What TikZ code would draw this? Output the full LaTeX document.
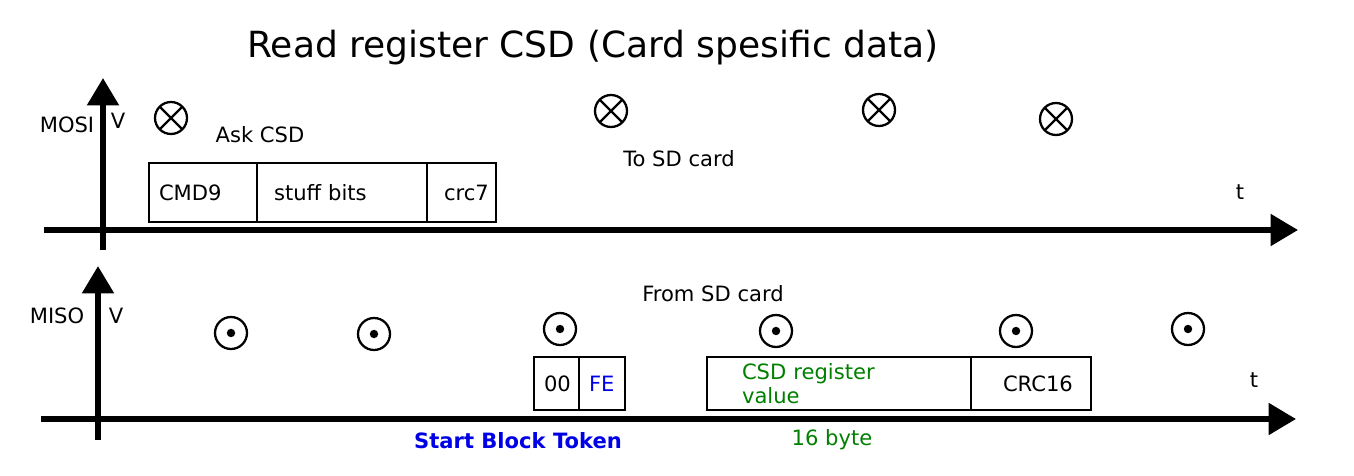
\documentclass[tikz,border=0pt]{standalone}
\usepackage{fontspec}
\setmainfont{DejaVu Sans}
\usetikzlibrary{arrows.meta}
\definecolor{tokenblue}{RGB}{0,0,230}
\definecolor{datagreen}{RGB}{0,128,0}
\begin{document}
\begin{tikzpicture}
[x=0.02cm,y=-0.02cm,font=\fontsize{12}{14}\selectfont,
axis/.style={line width=3.2pt,-{Triangle[length=0.55cm,width=0.62cm]}},
field/.style={draw,line width=1.5pt,minimum height=1.18cm,inner ysep=0pt,align=left},
token/.style={draw,line width=0.7pt,minimum height=1.06cm,inner ysep=0pt,align=left},
into/.style={circle,draw,line width=1.3pt,minimum size=0.64cm,inner sep=0pt,
  path picture={\draw[line width=1.3pt] (path picture bounding box.south west) -- (path picture bounding box.north east)
  (path picture bounding box.north west) -- (path picture bounding box.south east);}},
outof/.style={circle,draw,line width=1.3pt,minimum size=0.64cm,inner sep=0pt,
  path picture={\fill (path picture bounding box.center) circle (2.4pt);}}]
\useasboundingbox (0,0) rectangle (1354,476);
% title
\node (title) at (593,48) {\fontsize{20.5}{24}\selectfont Read register CSD (Card spesific data)};
% MOSI axes
\coordinate (tx0) at (44,230); \coordinate (tx1) at (1298,230);
\coordinate (ty0) at (103,250); \coordinate (ty1) at (103,78);
\draw[axis] (tx0) -- (tx1);
\draw[axis] (ty0) -- (ty1);
\node (mosi) at (67,125) {MOSI};
\node (tv) at (118,121) {V};
\node (tt) at (1240,192) {t};
\node (ask) at (260,135) {Ask CSD};
\node (tosd) at (679,159) {To SD card};
\node[field,inner xsep=0.2cm,text width=1.76cm] (cmd) at (203,192.5) {CMD9};
\node[field,inner xsep=0.34cm,text width=2.72cm] (stuff) at (342,192.5) {stuff bits};
\node[field,inner xsep=0.34cm,text width=0.7cm] (crc7) at (461.5,192.5) {crc7};
\foreach \x/\y [count=\i] in {171/118,611/111,879/110,1056/119}
  \node[into] (in\i) at (\x,\y) {};
% MISO axes
\coordinate (bx0) at (41,419); \coordinate (bx1) at (1296,419);
\coordinate (by0) at (98,440); \coordinate (by1) at (98,266);
\draw[axis] (bx0) -- (bx1);
\draw[axis] (by0) -- (by1);
\node (miso) at (57,316) {MISO};
\node (bv) at (116,316) {V};
\node (bt) at (1254,380) {t};
\node (fromsd) at (713,294) {From SD card};
\node[token,inner xsep=0.2cm,text width=0.5cm] (zero) at (556.5,383.5) {00};
\node[token,inner xsep=0.2cm,text width=0.52cm,text=tokenblue] (fe) at (602,383.5) {FE};
\node[field,minimum height=1.06cm,inner xsep=0.7cm,text width=3.88cm,text=datagreen] (csd) at (839,383.5) {CSD register value};
\node[field,minimum height=1.06cm,inner xsep=0.64cm,text width=1.12cm] (crc16) at (1031,383.5) {CRC16};
\node[text=tokenblue,font=\fontsize{12}{14}\selectfont\bfseries] (sbt) at (518,441) {Start Block Token};
\node[text=datagreen] (bytes) at (832,440) {16 byte};
\foreach \x/\y [count=\i] in {231/333,374/334,560/329,776/331,1016/331,1188/329}
  \node[outof] (out\i) at (\x,\y) {};
\end{tikzpicture}
\end{document}
